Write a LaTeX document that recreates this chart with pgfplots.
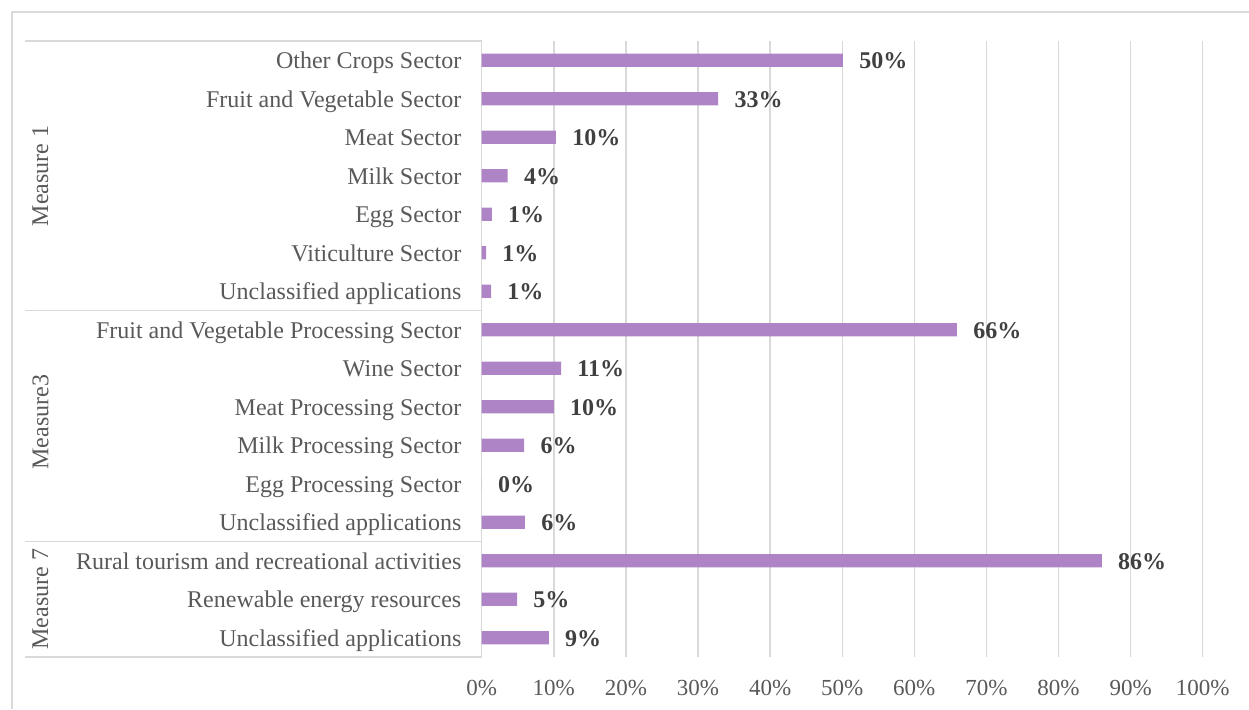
\documentclass[border=0pt]{standalone}
\usepackage{pgfplots}
\pgfplotsset{compat=1.18}
\usepackage{pgfplotstable}
\usepackage{fontspec}
\setmainfont{Liberation Serif}
\definecolor{barc}{HTML}{AE84C6}
\definecolor{gridc}{HTML}{D9D9D9}
\definecolor{txt}{HTML}{595959}
\definecolor{vtxt}{HTML}{404040}
\pgfplotstableread{
y x lab
15 50.1 50
14 32.8 33
13 10.3 10
12 3.6 4
11 1.4 1
10 0.6 1
9 1.3 1
8 65.9 66
7 11.0 11
6 10.0 10
5 5.9 6
4 0 0
3 6.0 6
2 86.0 86
1 4.9 5
0 9.3 9
}\data
\begin{document}
\begin{tikzpicture}[x=1bp,y=1bp]
\useasboundingbox (0,0) rectangle (624.5,354.5);
\draw[gridc, line width=1bp] (6,0) -- (6,348.5) -- (624.5,348.5);
\begin{axis}[
  at={(240.85bp,26bp)}, anchor=south west,
  scale only axis, width=360.5bp, height=308bp,
  xmin=0, xmax=100, ymin=-0.5, ymax=15.5,
  xbar, bar width=6.7bp,
  axis line style={draw=none},
  xmajorgrids, grid style={gridc, line width=0.7bp},
  major tick length=0pt,
  xtick={0,10,...,100},
  xticklabel={\pgfmathprintnumber{\tick}\%},
  /pgf/number format/assume math mode=true,
  xticklabel style={font=\fontsize{11.5bp}{13bp}\selectfont, color=txt, anchor=base, inner sep=0pt, yshift=-19bp},
  ytick={0,...,15},
  yticklabels={Unclassified applications, Renewable energy resources, Rural tourism and recreational activities, Unclassified applications, Egg Processing Sector, Milk Processing Sector, Meat Processing Sector, Wine Sector, Fruit and Vegetable Processing Sector, Unclassified applications, Viticulture Sector, Egg Sector, Milk Sector, Meat Sector, Fruit and Vegetable Sector, Other Crops Sector},
  yticklabel style={font=\fontsize{12bp}{14bp}\selectfont, color=txt, anchor=base east, inner sep=0pt, xshift=-10bp, yshift=-4.2bp},
  clip=false,
  point meta=explicit symbolic,
  nodes near coords={\pgfplotspointmeta\%},
  nodes near coords style={font=\fontsize{12bp}{14bp}\selectfont\bfseries, color=vtxt, anchor=base west, inner sep=0pt, xshift=8bp, yshift=-4.2bp},
]
\addplot[fill=barc, draw=none] table[x=x, y=y, meta=lab] {\data};
\draw[gridc, line width=0.75bp] (-63.3,15.5) -- (0,15.5);
\draw[gridc, line width=0.75bp] (-63.3,8.5) -- (0,8.5);
\draw[gridc, line width=0.75bp] (-63.3,2.5) -- (0,2.5);
\draw[gridc, line width=0.75bp] (-63.3,-0.5) -- (0,-0.5);
\node[rotate=90, color=txt, font=\fontsize{12bp}{14bp}\selectfont] at (-61.2,12) {Measure 1};
\node[rotate=90, color=txt, font=\fontsize{12bp}{14bp}\selectfont] at (-61.2,5.6) {Measure3};
\node[rotate=90, color=txt, font=\fontsize{12bp}{14bp}\selectfont] at (-61.2,1) {Measure 7};
\end{axis}
\end{tikzpicture}
\end{document}
